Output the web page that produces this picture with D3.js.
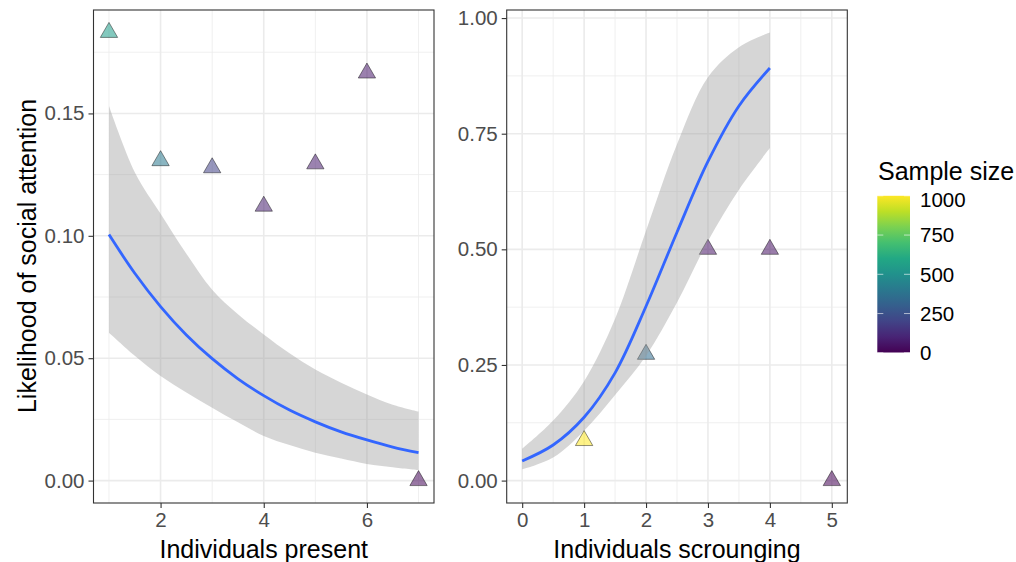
<!DOCTYPE html>
<html>
<head>
<meta charset="utf-8">
<script src="https://cdn.jsdelivr.net/npm/d3@7"></script>
<style>
  body { margin: 0; background: #fff; }
  svg { font-family: "Liberation Sans", Arial, sans-serif; }
</style>
</head>
<body>
<div id="chart"></div>
<script>
const width = 1016, height = 562;

// left panel: points
const presentX = [1, 2, 3, 4, 5, 6, 7];
const presentY = [0.1831, 0.1307, 0.1278, 0.1121, 0.1294, 0.1665, 0];
const presentN = [550, 400, 200, 90, 80, 70, 20];
// left panel: fitted curve and CI
const presentFitX = [1, 1.5, 2, 2.5, 3, 3.5, 4, 4.5, 5, 5.5, 6, 6.5, 7];
const presentFit = [0.1005, 0.0847, 0.0711, 0.0595, 0.0498, 0.0416, 0.0347, 0.0288, 0.0240, 0.0199, 0.0166, 0.0137, 0.0114];
const presentUpper = [0.153, 0.126, 0.109, 0.0927, 0.078, 0.068, 0.0597, 0.052, 0.0454, 0.040, 0.0352, 0.031, 0.0282];
const presentLower = [0.0604, 0.051, 0.0427, 0.036, 0.0298, 0.0238, 0.0182, 0.0145, 0.0114, 0.0090, 0.0068, 0.0055, 0.0043];

// right panel: points
const scroungeX = [1, 2, 3, 4, 5];
const scroungeY = [0.0866, 0.273, 0.5, 0.5, 0];
const scroungeN = [1000, 350, 60, 50, 2];
// right panel: fitted curve and CI
const scroungeFitX = [0, 0.5, 1, 1.5, 2, 2.5, 3, 3.5, 4];
const scroungeFit = [0.0425, 0.077, 0.137, 0.233, 0.377, 0.537, 0.690, 0.810, 0.892];
const scroungeUpper = [0.069, 0.13, 0.215, 0.35, 0.54, 0.727, 0.872, 0.937, 0.969];
const scroungeLower = [0.0244, 0.05, 0.108, 0.185, 0.27, 0.385, 0.518, 0.629, 0.719];

const leftTicksX = [2, 4, 6], leftMinorX = [1, 3, 5, 7];
const leftTicksY = [0, 0.05, 0.10, 0.15], leftMinorY = [0.025, 0.075, 0.125, 0.175];
const rightTicksX = [0, 1, 2, 3, 4, 5], rightMinorX = [0.5, 1.5, 2.5, 3.5, 4.5];
const rightTicksY = [0, 0.25, 0.5, 0.75, 1], rightMinorY = [0.125, 0.375, 0.625, 0.875];
const legendTicks = [0, 250, 500, 750, 1000];

const allN = presentN.concat(scroungeN);
const nExtent = d3.extent(allN);
const color = n => d3.interpolateViridis((n - nExtent[0]) / (nExtent[1] - nExtent[0]));

const svg = d3.select('#chart').append('svg')
    .attr('width', width)
    .attr('height', height);

// ggplot-style 5% expansion
function expand(ext) {
    const pad = (ext[1] - ext[0]) * 0.05;
    return [ext[0] - pad, ext[1] + pad];
}

function drawPanel(p) {
    const x = d3.scaleLinear().domain(expand(d3.extent(p.xs.concat(p.fitX)))).range([p.left, p.right]);
    const y = d3.scaleLinear()
        .domain(expand(d3.extent(p.ys.concat(p.upper, p.lower))))
        .range([p.bottom, p.top]);

    const g = svg.append('g');
    g.append('rect')
        .attr('x', p.left).attr('y', p.top)
        .attr('width', p.right - p.left).attr('height', p.bottom - p.top)
        .attr('fill', '#fff');

    // grid
    g.selectAll('.minx').data(p.minorX).enter().append('line')
        .attr('x1', d => x(d)).attr('x2', d => x(d))
        .attr('y1', p.top).attr('y2', p.bottom)
        .attr('stroke', '#ebebeb').attr('stroke-width', 0.8);
    g.selectAll('.miny').data(p.minorY).enter().append('line')
        .attr('y1', d => y(d)).attr('y2', d => y(d))
        .attr('x1', p.left).attr('x2', p.right)
        .attr('stroke', '#ebebeb').attr('stroke-width', 0.8);
    g.selectAll('.majx').data(p.ticksX).enter().append('line')
        .attr('x1', d => x(d)).attr('x2', d => x(d))
        .attr('y1', p.top).attr('y2', p.bottom)
        .attr('stroke', '#ebebeb').attr('stroke-width', 1.6);
    g.selectAll('.majy').data(p.ticksY).enter().append('line')
        .attr('y1', d => y(d)).attr('y2', d => y(d))
        .attr('x1', p.left).attr('x2', p.right)
        .attr('stroke', '#ebebeb').attr('stroke-width', 1.6);

    // points
    const pts = p.xs.map((d, i) => ({ x: d, y: p.ys[i], n: p.ns[i] }));
    g.selectAll('path.pt').data(pts).enter().append('path')
        .attr('class', 'pt')
        .attr('transform', d => `translate(${x(d.x)},${y(d.y)})`)
        .attr('d', d3.symbol(d3.symbolTriangle, 130))
        .attr('fill', d => color(d.n))
        .attr('fill-opacity', 0.55)
        .attr('stroke', '#000')
        .attr('stroke-opacity', 0.55)
        .attr('stroke-width', 0.8);

    // CI ribbon
    const smooth = d3.curveCatmullRom.alpha(0.5);
    const band = p.fitX.map((d, i) => ({ x: d, lo: p.lower[i], hi: p.upper[i], fit: p.fit[i] }));
    g.append('path').datum(band)
        .attr('d', d3.area().curve(smooth)
            .x(d => x(d.x)).y0(d => y(d.lo)).y1(d => y(d.hi)))
        .attr('fill', '#999999').attr('fill-opacity', 0.4);

    g.append('path').datum(band)
        .attr('d', d3.line().curve(smooth).x(d => x(d.x)).y(d => y(d.fit)))
        .attr('fill', 'none').attr('stroke', '#3366ff').attr('stroke-width', 2.8);

    // border
    g.append('rect')
        .attr('x', p.left).attr('y', p.top)
        .attr('width', p.right - p.left).attr('height', p.bottom - p.top)
        .attr('fill', 'none').attr('stroke', '#333').attr('stroke-width', 1.1);

    // axes
    const xAxis = g.append('g')
        .attr('transform', `translate(0,${p.bottom})`)
        .call(d3.axisBottom(x).tickValues(p.ticksX).tickSize(5).tickPadding(4).tickFormat(d3.format('d')));
    const yAxis = g.append('g')
        .attr('transform', `translate(${p.left},0)`)
        .call(d3.axisLeft(y).tickValues(p.ticksY).tickSize(5).tickPadding(4).tickFormat(d3.format('.2f')));
    [xAxis, yAxis].forEach(a => {
        a.select('.domain').remove();
        a.selectAll('line').attr('stroke', '#333').attr('stroke-width', 1.1);
        a.selectAll('text').attr('fill', '#4d4d4d').style('font-size', '20.5px');
    });

    g.append('text')
        .attr('x', (p.left + p.right) / 2).attr('y', 558)
        .attr('text-anchor', 'middle')
        .style('font-size', '25px')
        .text(p.xTitle);
}

drawPanel({
    left: 93.5, right: 434, top: 10, bottom: 503,
    xs: presentX, ys: presentY, ns: presentN,
    fitX: presentFitX, fit: presentFit, upper: presentUpper, lower: presentLower,
    ticksX: leftTicksX, minorX: leftMinorX, ticksY: leftTicksY, minorY: leftMinorY,
    xTitle: 'Individuals present'
});

drawPanel({
    left: 506.7, right: 847.3, top: 10, bottom: 503,
    xs: scroungeX, ys: scroungeY, ns: scroungeN,
    fitX: scroungeFitX, fit: scroungeFit, upper: scroungeUpper, lower: scroungeLower,
    ticksX: rightTicksX, minorX: rightMinorX, ticksY: rightTicksY, minorY: rightMinorY,
    xTitle: 'Individuals scrounging'
});

// y title
svg.append('text')
    .attr('transform', `translate(36,256) rotate(-90)`)
    .attr('text-anchor', 'middle')
    .style('font-size', '25px')
    .text('Likelihood of social attention');

// Legend
const legend = svg.append('g');
legend.append('text')
    .attr('x', 878).attr('y', 180)
    .style('font-size', '25px')
    .text('Sample size');

const barTop = 195.8, barBottom = 352.5, barLeft = 877.3, barW = 32.7;
const ly = d3.scaleLinear().domain(nExtent).range([barBottom, barTop]);

const grad = svg.append('defs').append('linearGradient')
    .attr('id', 'viridis').attr('x1', 0).attr('y1', 1).attr('x2', 0).attr('y2', 0);
d3.range(0, 1.0001, 0.1).forEach(t => {
    grad.append('stop').attr('offset', t).attr('stop-color', d3.interpolateViridis(t));
});
legend.append('rect')
    .attr('x', barLeft).attr('y', barTop)
    .attr('width', barW).attr('height', barBottom - barTop)
    .attr('fill', 'url(#viridis)');

legendTicks.forEach(v => {
    legend.append('line')
        .attr('x1', barLeft).attr('x2', barLeft + 6)
        .attr('y1', ly(v)).attr('y2', ly(v))
        .attr('stroke', '#fff').attr('stroke-opacity', 0.6);
    legend.append('line')
        .attr('x1', barLeft + barW - 6).attr('x2', barLeft + barW)
        .attr('y1', ly(v)).attr('y2', ly(v))
        .attr('stroke', '#fff').attr('stroke-opacity', 0.6);
    legend.append('text')
        .attr('x', 920).attr('y', Math.max(ly(v), barTop + 4))
        .attr('dy', '0.36em')
        .style('font-size', '20.5px')
        .text(v);
});
</script>
</body>
</html>
